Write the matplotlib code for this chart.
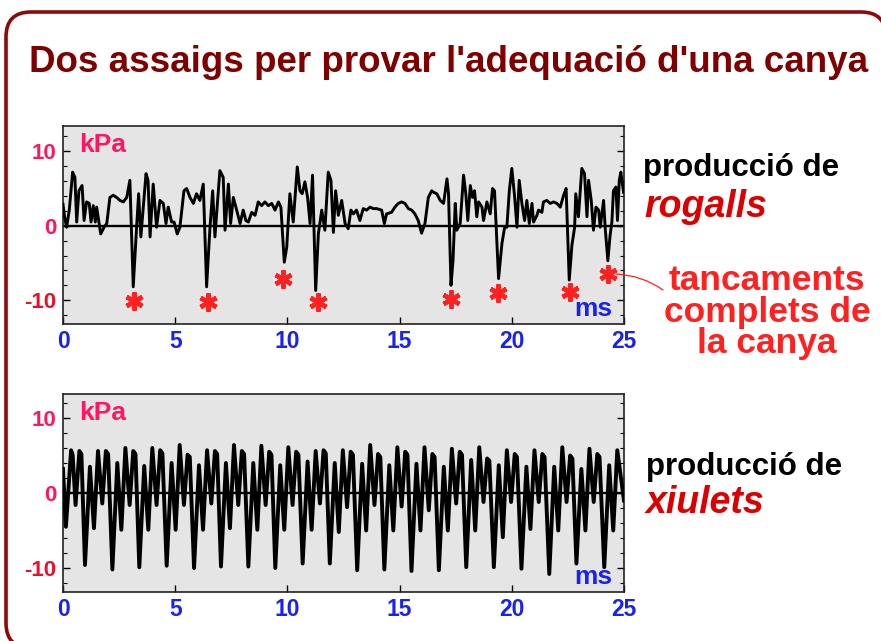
import matplotlib
matplotlib.use('Agg')
import matplotlib.pyplot as plt
from matplotlib.path import Path
from matplotlib.patches import PathPatch

plt.rcParams['font.family'] = ['Liberation Sans', 'DejaVu Sans']
plt.rcParams['font.weight'] = 'bold'

# --- data (t in ms, p in kPa) ---
rog_t = [0.00, 0.07, 0.16, 0.28, 0.43, 0.53, 0.61, 0.71, 0.85, 0.94, 1.05, 1.17, 1.25, 1.35,
         1.44, 1.50, 1.68, 1.83, 1.95, 2.09, 2.24, 2.39, 2.54, 2.69, 2.84, 2.98, 3.13, 3.28,
         3.37, 3.47, 3.70, 3.79, 3.88, 4.02, 4.17, 4.32, 4.47, 4.59, 4.69, 4.84, 4.95, 5.09,
         5.21, 5.39, 5.51, 5.66, 5.81, 5.95, 6.10, 6.25, 6.40, 6.55, 6.67, 6.77, 6.99, 7.14,
         7.22, 7.37, 7.47, 7.59, 7.74, 7.89, 8.03, 8.15, 8.26, 8.41, 8.56, 8.70, 8.85, 9.00,
         9.15, 9.30, 9.45, 9.60, 9.71, 9.86, 9.97, 10.11, 10.26, 10.44, 10.56, 10.66, 10.78,
         10.90, 11.01, 11.12, 11.26, 11.38, 11.53, 11.67, 11.82, 11.94, 12.05, 12.15, 12.27,
         12.42, 12.57, 12.71, 12.83, 12.94, 13.08, 13.23, 13.38, 13.53, 13.68, 13.83, 13.98,
         14.20, 14.32, 14.42, 14.64, 14.79, 14.94, 15.09, 15.24, 15.39, 15.54, 15.68, 15.83,
         15.98, 16.13, 16.28, 16.43, 16.51, 16.66, 16.81, 16.96, 17.11, 17.18, 17.29, 17.38,
         17.48, 17.55, 17.70, 17.85, 17.95, 18.04, 18.15, 18.25, 18.34, 18.44, 18.52, 18.67,
         18.74, 18.89, 19.04, 19.14, 19.23, 19.41, 19.56, 19.68, 19.78, 19.89, 20.00, 20.12,
         20.23, 20.33, 20.45, 20.57, 20.67, 20.78, 20.90, 20.97, 21.12, 21.19, 21.34, 21.41,
         21.56, 21.71, 21.86, 22.01, 22.16, 22.31, 22.42, 22.56, 22.68, 22.80, 22.85, 22.97,
         23.12, 23.24, 23.35, 23.42, 23.54, 23.64, 23.75, 23.87, 23.94, 24.09, 24.16, 24.28,
         24.38, 24.46, 24.53, 24.64, 24.71, 24.79, 24.86, 24.98]
rog_p = [2.9, 1.2, -0.2, 2.1, 7.2, 6.5, 0.5, 4.7, 5.4, 0.7, 3.2, 3.0, 0.5, 2.7,
         0.5, 2.5, -1.1, -0.2, 0.3, 3.8, 4.1, 3.8, 3.4, 3.2, 3.8, 6.1, -8.2, -0.2,
         4.3, -1.5, 7.0, 6.1, -1.5, 5.6, -0.2, 3.4, 3.0, 0.3, 2.5, 0.5, 0.5, -1.1,
         -0.2, 4.7, 5.0, 3.8, 3.0, 4.3, 3.4, 5.6, -8.2, -0.2, 4.7, -1.5, 7.4, 6.5,
         -0.6, 5.6, 0.3, 3.8, 2.1, 0.3, 2.1, 0.7, 0.5, 1.8, 1.4, 3.2, 2.7, 3.2,
         2.7, 3.0, 2.1, 3.2, 2.5, -4.9, -2.9, 4.3, 0.5, 7.9, 4.7, 4.3, 5.9,
         3.8, 0.3, 6.8, -8.7, -1.1, 2.1, -0.6, 7.2, 6.1, -0.9, 4.7, 1.4,
         3.4, 0.3, -0.4, 2.1, 1.6, 2.1, 0.7, 2.3, 2.1, 2.5, 2.3, 2.3,
         2.1, 0.3, 1.6, 1.8, 2.5, 3.0, 3.2, 3.0, 2.3, 2.1, 1.6, 0.7,
         -1.0, 0.3, 3.8, 4.7, 4.5, 4.3, 3.4, 3.0, 6.3, 4.3, -8.0, -4.7,
         3.0, -0.6, 0.3, 6.8, 4.3, 0.7, 5.4, 3.8, 4.7, 1.2, 3.2, 2.5,
         0.7, 3.2, 1.6, 5.0, 4.7, -7.1, -2.4, -0.2, -0.2, 4.7, 7.7, 4.1,
         -0.2, 6.1, 3.0, 0.7, 3.4, 0.3, 3.0, 0.5, 1.4, 2.1, 1.8, 3.2,
         3.4, 3.0, 3.2, 3.0, 2.5, 4.1, 5.0, -7.3, -2.6, -0.2, 4.3, 1.2,
         7.7, 7.0, 1.2, 6.1, 3.4, -0.6, 2.5, 2.1, -0.2, 3.4, -0.2, -4.7,
         -1.3, 0.5, 4.7, 5.2, 0.7, 6.1, 7.2, 4.5]

# reed closures (asterisks)
clos_t = [3.16, 6.46, 9.80, 11.36, 17.29, 19.38, 22.59, 24.28]
clos_p = [-10.1, -10.3, -7.2, -10.2, -9.8, -9.0, -8.9, -6.5]

xiu_t = [0.00, 0.13, 0.36, 0.43, 0.56, 0.73, 0.82,
         0.98, 1.20, 1.38, 1.56, 1.75, 1.91, 2.01,
         2.20, 2.42, 2.60, 2.78, 2.97, 3.13, 3.23,
         3.40, 3.62, 3.80, 3.98, 4.17, 4.33, 4.43,
         4.62, 4.84, 5.02, 5.20, 5.39, 5.55, 5.65,
         5.84, 6.06, 6.24, 6.42, 6.61, 6.77, 6.87,
         7.04, 7.26, 7.44, 7.62, 7.81, 7.97, 8.07,
         8.26, 8.48, 8.66, 8.84, 9.03, 9.19, 9.29,
         9.46, 9.68, 9.86, 10.04, 10.23, 10.39, 10.49,
         10.68, 10.90, 11.08, 11.26, 11.45, 11.61, 11.71,
         11.89, 12.11, 12.29, 12.47, 12.66, 12.82, 12.92,
         13.11, 13.33, 13.51, 13.69, 13.88, 14.04, 14.14,
         14.32, 14.54, 14.72, 14.90, 15.09, 15.25, 15.35,
         15.53, 15.75, 15.93, 16.11, 16.30, 16.46, 16.56,
         16.75, 16.97, 17.15, 17.33, 17.52, 17.68, 17.78,
         17.97, 18.19, 18.37, 18.55, 18.74, 18.90, 19.00,
         19.20, 19.42, 19.60, 19.78, 19.97, 20.13, 20.23,
         20.43, 20.65, 20.83, 21.01, 21.20, 21.36, 21.46,
         21.67, 21.89, 22.07, 22.25, 22.44, 22.60, 22.70,
         22.88, 23.10, 23.28, 23.46, 23.65, 23.81, 23.91,
         24.12, 24.34, 24.52, 24.70, 25.00]
xiu_p = [3.2, -4.5, 5.7, 5.1, -1.6, 5.6, 5.2,
         -9.6, 3.5, -4.7, 5.6, -1.4, 5.6, 5.2,
         -10.2, 4.0, -4.9, 6.0, -1.6, 5.6, 5.2,
         -9.9, 3.6, -4.9, 6.0, -1.6, 5.7, 5.3,
         -9.7, 4.0, -4.9, 6.4, -1.6, 5.1, 4.8,
         -10.0, 3.7, -4.9, 5.7, -1.4, 5.6, 5.2,
         -9.8, 4.0, -4.7, 6.4, -1.6, 5.6, 5.2,
         -9.8, 4.0, -4.9, 6.3, -1.6, 5.5, 5.1,
         -10.0, 3.7, -4.9, 6.1, -1.6, 5.5, 5.1,
         -9.4, 4.2, -4.9, 5.6, -1.4, 5.7, 5.3,
         -9.4, 4.0, -5.2, 5.7, -1.9, 5.5, 5.1,
         -10.3, 3.9, -5.0, 6.4, -1.6, 5.2, 4.8,
         -10.2, 3.7, -5.0, 6.1, -1.8, 5.5, 5.1,
         -10.4, 3.9, -5.0, 6.1, -2.3, 5.2, 4.8,
         -10.3, 3.5, -5.0, 5.9, -1.4, 5.5, 5.1,
         -9.9, 4.4, -5.0, 6.1, -1.2, 4.6, 4.3,
         -9.9, 3.7, -5.9, 5.7, -1.2, 5.2, 4.8,
         -10.1, 3.5, -4.8, 5.7, -1.2, 5.2, 4.8,
         -10.8, 3.5, -5.0, 6.1, -1.2, 5.0, 4.6,
         -9.4, 3.2, -5.0, 5.9, -1.2, 5.2, 4.8,
         -9.9, 3.7, -5.0, 5.7, -1.0]

xticks = [0, 5, 10, 15, 20, 25]
yticks = [-10, 0, 10]
ytick_labels = ['-10', '0', '10']

W, H = 881, 641
PINK = '#ff1560'
BLUE = '#1a22ee'
RED = '#ff2020'
DARKRED = '#800000'


def px(x, y):
    return x / W, 1 - y / H


def style_axes(ax, ylim):
    ax.set_facecolor('#e5e5e5')
    ax.set_xlim(0, 25)
    ax.set_ylim(*ylim)
    ax.axhline(0, color='black', lw=1.7, zorder=2)
    ax.set_xticks(xticks)
    ax.set_xticklabels([str(v) for v in xticks])
    ax.set_yticks(yticks)
    ax.set_yticklabels(ytick_labels)
    ax.set_yticks(range(-12, 13, 2), minor=True)
    ax.tick_params(axis='both', which='both', direction='in', right=True)
    ax.tick_params(axis='y', which='major', length=5, width=1, pad=5,
                   labelsize=16, labelcolor=PINK)
    ax.tick_params(axis='y', which='minor', length=3, width=0.8)
    ax.tick_params(axis='x', which='major', length=5, width=1, pad=4,
                   labelsize=16.5, labelcolor=BLUE)
    ax.get_yticklabels()[0].set_color('#e8102a')
    for s in ax.spines.values():
        s.set_linewidth(1.2)
        s.set_color('#222222')
    ax.text(0.028, 0.905, 'kPa', transform=ax.transAxes, color=PINK,
            fontsize=19, ha='left', va='center')
    ax.text(0.979, 0.078, 'ms', transform=ax.transAxes, color=BLUE,
            fontsize=19, ha='right', va='center')


fig = plt.figure(figsize=(W / 100, H / 100), dpi=100)

# rounded frame that runs off the right and bottom edges (pixel positions)
r = 25
frame_pts = [(31, 648), (6, 648), (6, 648 - r), (6, 12 + r), (6, 12), (6 + r, 12),
             (886 - r, 12), (886, 12), (886, 12 + r)]
frame_codes = [Path.MOVETO, Path.CURVE3, Path.CURVE3, Path.LINETO, Path.CURVE3,
               Path.CURVE3, Path.LINETO, Path.CURVE3, Path.CURVE3]
frame = PathPatch(Path([px(x, y) for x, y in frame_pts], frame_codes),
                  transform=fig.transFigure, fill=False, edgecolor='#8e0a0a', lw=2.6)
fig.patches.append(frame)

fig.text(*px(449, 62), "Dos assaigs per provar l'adequació d'una canya",
         color=DARKRED, fontsize=26.5, ha='center', va='center')

ax1 = fig.add_axes([63 / W, 1 - 324 / H, 561 / W, 198 / H])
style_axes(ax1, (-13.2, 13.4))
ax1.plot(rog_t, rog_p, color='black', lw=2.1, solid_joinstyle='round', zorder=3)
ax1.plot(clos_t, clos_p, ls='none', marker=(6, 2, 0), markersize=13,
         markeredgewidth=3.2, color=RED, zorder=4, clip_on=False)
ax1.annotate('', xy=(clos_t[-1] + 0.35, clos_p[-1]), xycoords='data',
             xytext=px(663, 290), textcoords='figure fraction',
             arrowprops=dict(arrowstyle='-', color=RED, lw=0.9,
                             shrinkA=0, shrinkB=0,
                             connectionstyle='arc3,rad=0.15'))

ax2 = fig.add_axes([63 / W, 1 - 592 / H, 561 / W, 198 / H])
style_axes(ax2, (-13.2, 13.2))
ax2.plot(xiu_t, xiu_p, color='black', lw=2.8, solid_joinstyle='round', zorder=3)

fig.text(*px(643, 168), 'producció de', color='black', fontsize=22.5,
         ha='left', va='center')
fig.text(*px(644, 207), 'rogalls', color='#dd0000', fontsize=27,
         style='italic', ha='left', va='center')
for line, yy in zip(['tancaments', 'complets de', 'la canya'], [280, 312, 344]):
    fig.text(*px(767, yy), line, color=RED, fontsize=25.5, ha='center', va='center')

fig.text(*px(646, 467), 'producció de', color='black', fontsize=22.5,
         ha='left', va='center')
fig.text(*px(646, 503), 'xiulets', color='#dd0000', fontsize=27,
         style='italic', ha='left', va='center')

fig.savefig('out.png', dpi=100)
